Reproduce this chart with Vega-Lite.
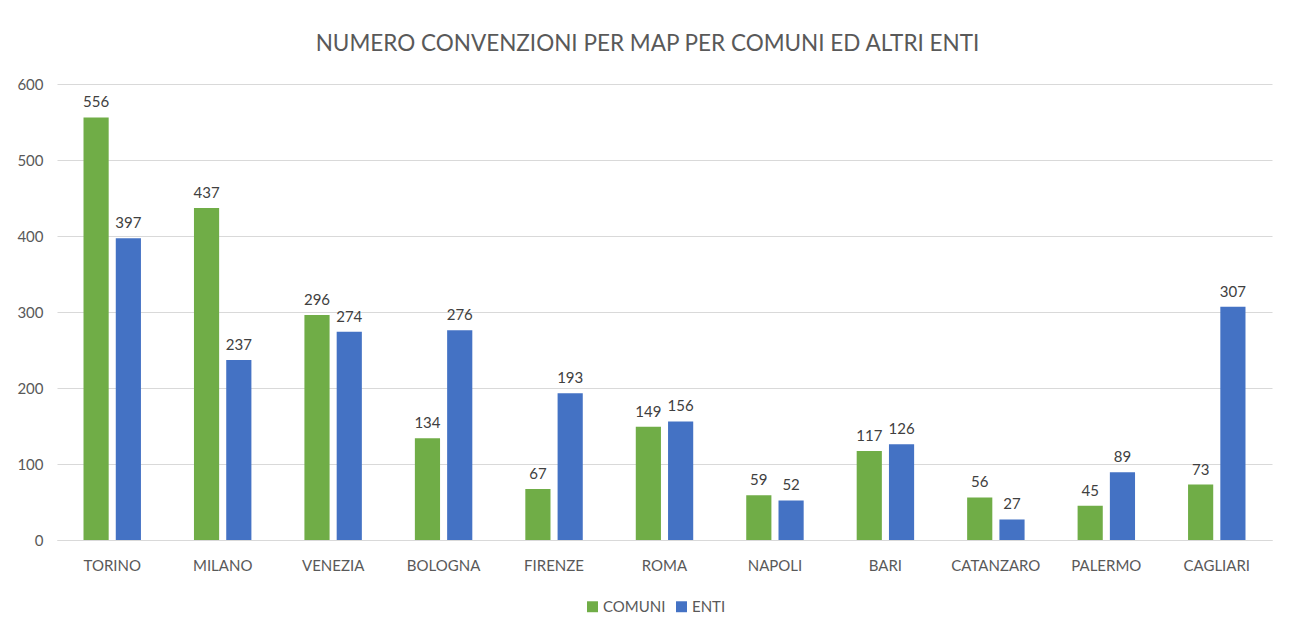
{
  "$schema": "https://vega.github.io/schema/vega-lite/v6.json",
  "width": 1215,
  "height": 456,
  "autosize": {"type": "none"},
  "padding": {"left": 57, "top": 84, "right": 21, "bottom": 91},
  "background": "white",
  "title": {
    "text": "NUMERO CONVENZIONI PER MAP PER COMUNI ED ALTRI ENTI",
    "font": "Lato",
    "fontSize": 22.5,
    "fontWeight": "normal",
    "color": "#595959",
    "anchor": "middle",
    "offset": 22,
    "dx": -17
  },
  "data": {
    "values": [
      {"citta": "TORINO", "serie": "COMUNI", "valore": 556},
      {"citta": "TORINO", "serie": "ENTI", "valore": 397},
      {"citta": "MILANO", "serie": "COMUNI", "valore": 437},
      {"citta": "MILANO", "serie": "ENTI", "valore": 237},
      {"citta": "VENEZIA", "serie": "COMUNI", "valore": 296},
      {"citta": "VENEZIA", "serie": "ENTI", "valore": 274},
      {"citta": "BOLOGNA", "serie": "COMUNI", "valore": 134},
      {"citta": "BOLOGNA", "serie": "ENTI", "valore": 276},
      {"citta": "FIRENZE", "serie": "COMUNI", "valore": 67},
      {"citta": "FIRENZE", "serie": "ENTI", "valore": 193},
      {"citta": "ROMA", "serie": "COMUNI", "valore": 149},
      {"citta": "ROMA", "serie": "ENTI", "valore": 156},
      {"citta": "NAPOLI", "serie": "COMUNI", "valore": 59},
      {"citta": "NAPOLI", "serie": "ENTI", "valore": 52},
      {"citta": "BARI", "serie": "COMUNI", "valore": 117},
      {"citta": "BARI", "serie": "ENTI", "valore": 126},
      {"citta": "CATANZARO", "serie": "COMUNI", "valore": 56},
      {"citta": "CATANZARO", "serie": "ENTI", "valore": 27},
      {"citta": "PALERMO", "serie": "COMUNI", "valore": 45},
      {"citta": "PALERMO", "serie": "ENTI", "valore": 89},
      {"citta": "CAGLIARI", "serie": "COMUNI", "valore": 73},
      {"citta": "CAGLIARI", "serie": "ENTI", "valore": 307}
    ]
  },
  "encoding": {
    "x": {
      "field": "citta",
      "type": "nominal",
      "sort": null,
      "scale": {"paddingInner": 0.48, "paddingOuter": 0.24},
      "axis": {
        "title": null,
        "labelAngle": 0,
        "ticks": false,
        "domainColor": "#d9d9d9",
        "labelFont": "Lato",
        "labelFontSize": 15,
        "labelColor": "#595959",
        "labelPadding": 18
      }
    },
    "xOffset": {
      "field": "serie",
      "type": "nominal",
      "scale": {"paddingInner": 0.22, "paddingOuter": 0}
    },
    "y": {
      "field": "valore",
      "type": "quantitative",
      "scale": {"domain": [0, 600]},
      "axis": {
        "title": null,
        "values": [0, 100, 200, 300, 400, 500, 600],
        "domain": false,
        "ticks": false,
        "gridColor": "#d9d9d9",
        "labelFont": "Lato",
        "labelFontSize": 15,
        "labelColor": "#595959",
        "labelPadding": 14
      }
    }
  },
  "layer": [
    {
      "mark": {"type": "bar"},
      "encoding": {
        "color": {
          "field": "serie",
          "type": "nominal",
          "scale": {"domain": ["COMUNI", "ENTI"], "range": ["#70AD47", "#4472C4"]},
          "legend": {
            "title": null,
            "orient": "none",
            "legendX": 528,
            "legendY": 515,
            "direction": "horizontal",
            "symbolType": "square",
            "symbolSize": 120,
            "symbolStrokeWidth": 0,
            "labelFont": "Lato",
            "labelFontSize": 15,
            "labelColor": "#595959",
            "columnPadding": 8,
            "labelOffset": 3
          }
        }
      }
    },
    {
      "mark": {"type": "text", "baseline": "bottom", "dy": -7, "font": "Lato", "fontSize": 15, "color": "#404040"},
      "encoding": {
        "text": {"field": "valore", "type": "quantitative"}
      }
    }
  ],
  "config": {
    "view": {"stroke": null}
  }
}
